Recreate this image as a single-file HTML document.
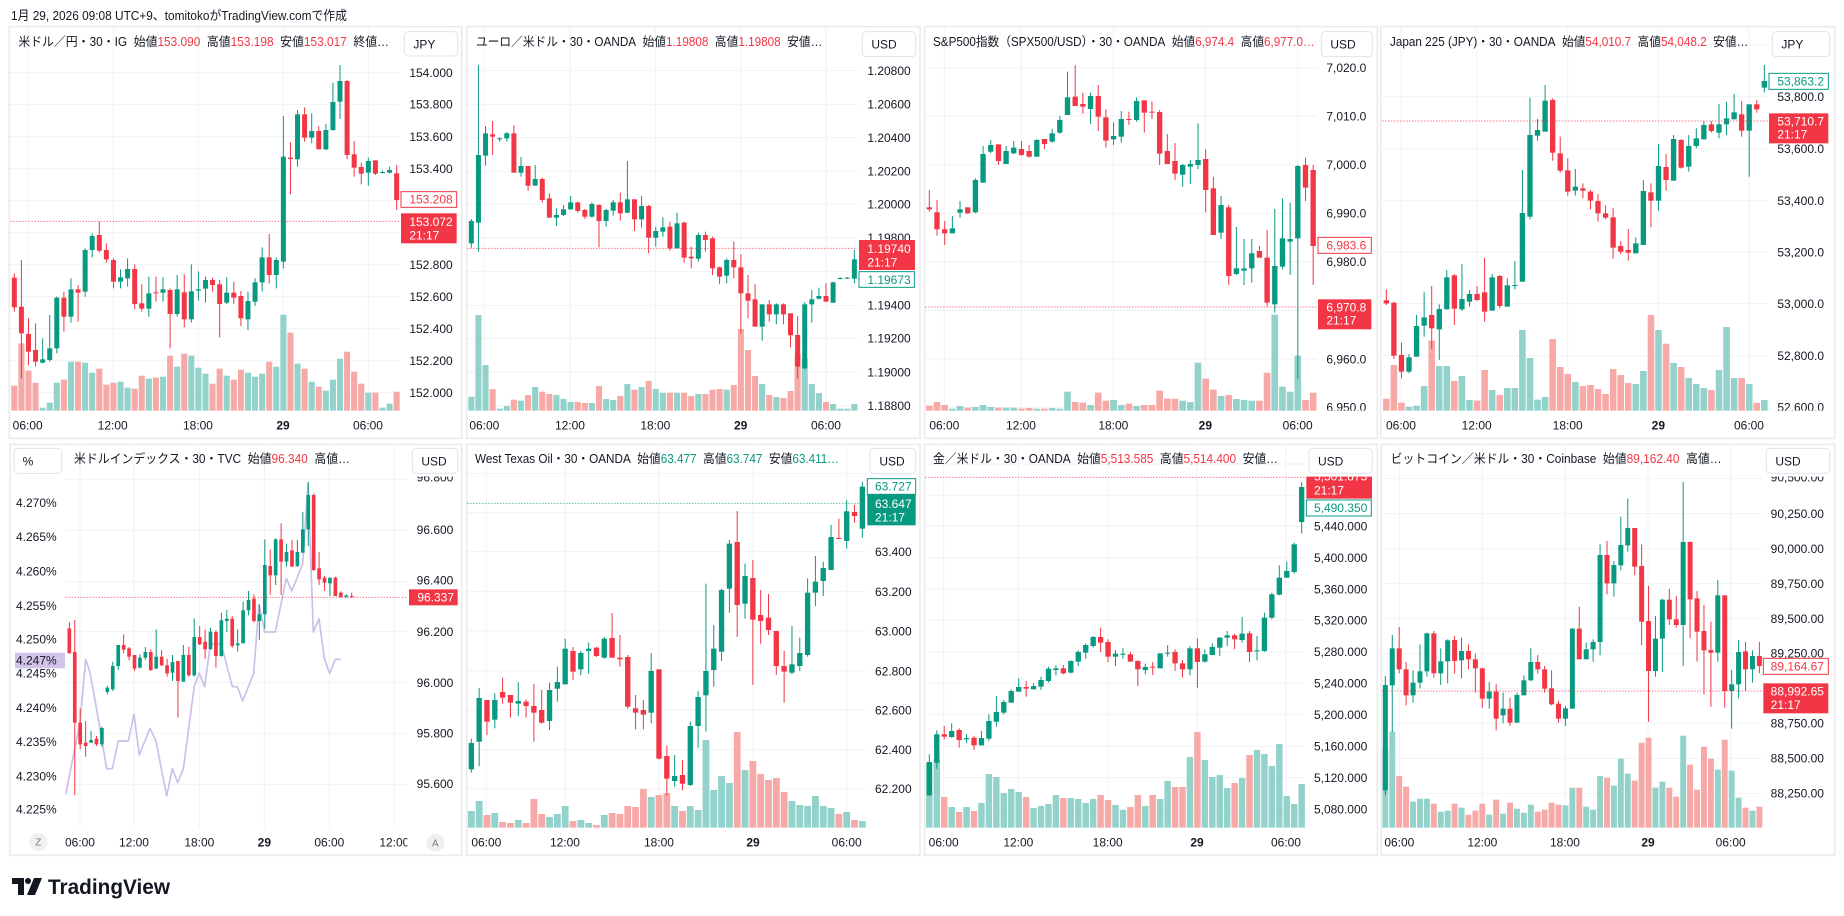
<!DOCTYPE html>
<html><head><meta charset="utf-8">
<style>
html,body{margin:0;padding:0;background:#fff;}
svg{display:block}
text{font-family:"Liberation Sans","Noto Sans CJK JP",sans-serif;}
.pn text{font-size:36px;fill:#131722}
.pn .lg{font-size:38px}
.pn .r{fill:#f23645}
.pn .g{fill:#089981}
.pn .w{fill:#fff}
.pn .e{text-anchor:end}
.pn .t text{text-anchor:middle}
.pn .b{font-weight:bold}
.grid line{stroke:#f1f2f4;stroke-width:3}
.btn rect{fill:#fff;stroke:#e0e3eb;stroke-width:3}
.plr{stroke:#f23645;stroke-width:3;stroke-dasharray:3 6}
.plg{stroke:#089981;stroke-width:3;stroke-dasharray:3 6}
.bd{fill:none;stroke:#ebebeb;stroke-width:5}
.pn .za{font-size:30px;fill:#787b86;text-anchor:middle}
</style></head><body>
<svg id="s" width="1844" height="916" xmlns="http://www.w3.org/2000/svg">
<defs>
<clipPath id="ca1"><rect x="0" y="118" width="1420" height="1054"/></clipPath>
<clipPath id="ca2"><rect x="0" y="122" width="1420" height="1053"/></clipPath>
<clipPath id="ct5"><rect x="197" y="1180" width="1025" height="80"/></clipPath>
</defs>
<rect width="1844" height="916" fill="#fff"/>
<text x="11" y="20" font-size="13" fill="#131722" textLength="336" lengthAdjust="spacingAndGlyphs">1月 29, 2026 09:08 UTC+9、tomitokoがTradingView.comで作成</text>

<!-- footer logo -->
<g fill="#131722">
<polygon points="12,878 24,878 24,895 18,895 18,884 12,884"/>
<circle cx="28" cy="881" r="3"/>
<polygon points="34,878 42,878 35,895 27,895"/>
<text x="48" y="894" font-size="21" font-weight="bold" textLength="122" lengthAdjust="spacingAndGlyphs">TradingView</text>
</g>

<!-- PANEL 1 -->
<g class="pn" transform="translate(0,20) scale(0.333333)">
<rect class="bd" x="28" y="20" width="1357" height="1235"/>
<g class="grid" id="g1"></g>
<g id="c1"></g>
<line class="plr" x1="32" x2="1198" y1="604" y2="604"/>
<text class="lg" x="55" y="78" textLength="1112" lengthAdjust="spacingAndGlyphs">米ドル／円・30・IG&#160;&#160;始値<tspan class="r">153.090</tspan>&#160;&#160;高値<tspan class="r">153.198</tspan>&#160;&#160;安値<tspan class="r">153.017</tspan>&#160;&#160;終値…</text>
<g class="btn"><rect x="1213" y="35" width="160" height="73" rx="12"/><text x="1240" y="85">JPY</text></g>
<g clip-path="url(#ca1)">
<text x="1228" y="171">154.000</text><text x="1228" y="266">153.800</text><text x="1228" y="363">153.600</text><text x="1228" y="459">153.400</text><text x="1228" y="747">152.800</text><text x="1228" y="843">152.600</text><text x="1228" y="939">152.400</text><text x="1228" y="1035">152.200</text><text x="1228" y="1131">152.000</text>
</g>
<rect x="1203" y="515" width="167" height="47" fill="#fff" stroke="#f23645" stroke-width="3"/>
<text class="r" x="1228" y="551">153.208</text>
<rect x="1203" y="580" width="167" height="90" fill="#f23645"/>
<text class="w" x="1228" y="618">153.072</text><text class="w" x="1228" y="658">21:17</text>
<g class="t"><text x="83" y="1228">06:00</text><text x="338" y="1228">12:00</text><text x="594" y="1228">18:00</text><text class="b" x="849" y="1228">29</text><text x="1104" y="1228">06:00</text></g>
</g>

<!-- PANEL 2 -->
<g class="pn" transform="translate(460,20) scale(0.333333)">
<rect class="bd" x="20" y="20" width="1360" height="1235"/>
<g class="grid" id="g2"></g>
<g id="c2"></g>
<line class="plr" x1="22" x2="1193" y1="685" y2="685"/>
<text class="lg" x="48" y="78" textLength="1039" lengthAdjust="spacingAndGlyphs">ユーロ／米ドル・30・OANDA&#160;&#160;始値<tspan class="r">1.19808</tspan>&#160;&#160;高値<tspan class="r">1.19808</tspan>&#160;&#160;安値…</text>
<g class="btn"><rect x="1207" y="35" width="160" height="75" rx="12"/><text x="1234" y="86">USD</text></g>
<g clip-path="url(#ca1)">
<text x="1222" y="165">1.20800</text><text x="1222" y="266">1.20600</text><text x="1222" y="366">1.20400</text><text x="1222" y="467">1.20200</text><text x="1222" y="566">1.20000</text><text x="1222" y="666">1.19800</text><text x="1222" y="869">1.19400</text><text x="1222" y="968">1.19200</text><text x="1222" y="1069">1.19000</text><text x="1222" y="1170">1.18800</text>
</g>
<rect x="1197" y="660" width="168" height="90" fill="#f23645"/>
<text class="w" x="1222" y="699">1.19740</text><text class="w" x="1222" y="740">21:17</text>
<rect x="1197" y="755" width="166" height="47" fill="#fff" stroke="#089981" stroke-width="3"/>
<text class="g" x="1222" y="792">1.19673</text>
<g class="t"><text x="73" y="1228">06:00</text><text x="330" y="1228">12:00</text><text x="586" y="1228">18:00</text><text class="b" x="842" y="1228">29</text><text x="1098" y="1228">06:00</text></g>
</g>

<!-- PANEL 3 -->
<g class="pn" transform="translate(918,20) scale(0.333333)">
<rect class="bd" x="20" y="20" width="1358" height="1235"/>
<g class="grid" id="g3"></g>
<g id="c3"></g>
<line class="plr" x1="22" x2="1197" y1="861" y2="861"/>
<text class="lg" x="45" y="78" textLength="1145" lengthAdjust="spacingAndGlyphs">S&amp;P500指数（SPX500/USD）・30・OANDA&#160;&#160;始値<tspan class="r">6,974.4</tspan>&#160;&#160;高値<tspan class="r">6,977.0…</tspan></text>
<g class="btn"><rect x="1210" y="35" width="153" height="75" rx="12"/><text x="1237" y="86">USD</text></g>
<g clip-path="url(#ca1)">
<text x="1225" y="156">7,020.0</text><text x="1225" y="301">7,010.0</text><text x="1225" y="447">7,000.0</text><text x="1225" y="593">6,990.0</text><text x="1225" y="738">6,980.0</text><text x="1225" y="1030">6,960.0</text><text x="1225" y="1175">6,950.0</text>
</g>
<rect x="1200" y="652" width="160" height="48" fill="#fff" stroke="#f23645" stroke-width="3"/>
<text class="r" x="1225" y="689">6,983.6</text>
<rect x="1200" y="838" width="160" height="90" fill="#f23645"/>
<text class="w" x="1225" y="874">6,970.8</text><text class="w" x="1225" y="914">21:17</text>
<g class="t"><text x="79" y="1228">06:00</text><text x="309" y="1228">12:00</text><text x="586" y="1228">18:00</text><text class="b" x="862" y="1228">29</text><text x="1139" y="1228">06:00</text></g>
</g>

<!-- PANEL 4 -->
<g class="pn" transform="translate(1374,20) scale(0.333333)">
<rect class="bd" x="20" y="20" width="1362" height="1235"/>
<g class="grid" id="g4"></g>
<g id="c4"></g>
<line class="plr" x1="25" x2="1183" y1="303" y2="303"/>
<text class="lg" x="48" y="78" textLength="1075" lengthAdjust="spacingAndGlyphs">Japan 225 (JPY)・30・OANDA&#160;&#160;始値<tspan class="r">54,010.7</tspan>&#160;&#160;高値<tspan class="r">54,048.2</tspan>&#160;&#160;安値…</text>
<g class="btn"><rect x="1195" y="35" width="172" height="75" rx="12"/><text x="1222" y="86">JPY</text></g>
<g clip-path="url(#ca1)">
<text x="1210" y="243">53,800.0</text><text x="1210" y="399">53,600.0</text><text x="1210" y="555">53,400.0</text><text x="1210" y="709">53,200.0</text><text x="1210" y="864">53,000.0</text><text x="1210" y="1020">52,800.0</text><text x="1210" y="1175">52,600.0</text>
</g>
<rect x="1185" y="160" width="178" height="48" fill="#fff" stroke="#089981" stroke-width="3"/>
<text class="g" x="1210" y="196">53,863.2</text>
<rect x="1185" y="280" width="178" height="90" fill="#f23645"/>
<text class="w" x="1210" y="316">53,710.7</text><text class="w" x="1210" y="356">21:17</text>
<g class="t"><text x="81" y="1228">06:00</text><text x="308" y="1228">12:00</text><text x="581" y="1228">18:00</text><text class="b" x="853" y="1228">29</text><text x="1125" y="1228">06:00</text></g>
</g>

<!-- PANEL 5 -->
<g class="pn" transform="translate(0,436) scale(0.333333)">
<rect class="bd" x="30" y="25" width="1355" height="1233"/>
<g class="grid" id="g5"></g>
<polyline fill="none" stroke="#cbbfe9" stroke-width="5" stroke-linejoin="round" points="197,1075 240,860 257,670 270,710 290,820 320,998 337,998 355,915 385,915 402,835 418,957 450,877 468,915 500,1080 517,998 533,1040 550,998 583,750 598,712 614,752 631,625 647,622 664,625 697,752 712,752 728,795 761,712 777,505 794,588 826,588 843,505 859,427 875,465 908,385 924,142 940,588 957,548 973,668 989,712 1006,670 1022,670"/>
<g id="c5"></g>
<line class="plr" x1="197" x2="1222" y1="484" y2="484"/>
<text class="lg" x="222" y="81" textLength="828" lengthAdjust="spacingAndGlyphs">米ドルインデックス・30・TVC&#160;&#160;始値<tspan class="r">96.340</tspan>&#160;&#160;高値…</text>
<g class="btn"><rect x="1237" y="37" width="136" height="75" rx="12"/><text x="1264" y="88">USD</text></g>
<g class="btn"><rect x="42" y="37" width="143" height="75" rx="12"/><text x="68" y="88">%</text></g>
<g clip-path="url(#ca2)">
<text x="1250" y="137">96.800</text><text x="1250" y="294">96.600</text><text x="1250" y="446">96.400</text><text x="1250" y="600">96.200</text><text x="1250" y="753">96.000</text><text x="1250" y="905">95.800</text><text x="1250" y="1056">95.600</text>
<text class="e" x="170" y="213">4.270%</text><text class="e" x="170" y="315">4.265%</text><text class="e" x="170" y="419">4.260%</text><text class="e" x="170" y="522">4.255%</text><text class="e" x="170" y="623">4.250%</text><text class="e" x="170" y="725">4.245%</text><text class="e" x="170" y="828">4.240%</text><text class="e" x="170" y="930">4.235%</text><text class="e" x="170" y="1033">4.230%</text><text class="e" x="170" y="1133">4.225%</text>
</g>
<rect x="45" y="650" width="150" height="47" fill="#d1c4e9"/>
<text class="e" x="170" y="686">4.247%</text>
<rect x="1227" y="460" width="146" height="48" fill="#f23645"/>
<text class="w" x="1252" y="497">96.337</text>
<g class="t" clip-path="url(#ct5)"><text x="240" y="1231">06:00</text><text x="402" y="1231">12:00</text><text x="598" y="1231">18:00</text><text class="b" x="793" y="1231">29</text><text x="988" y="1231">06:00</text><text x="1183" y="1231">12:00</text></g>
<circle cx="115" cy="1218" r="27" fill="#f0f0f0"/><text class="za" x="115" y="1229">Z</text>
<circle cx="1306" cy="1220" r="27" fill="#f0f0f0"/><text class="za" x="1306" y="1231">A</text>
</g>

<!-- PANEL 6 -->
<g class="pn" transform="translate(460,436) scale(0.333333)">
<rect class="bd" x="20" y="25" width="1360" height="1233"/>
<g class="grid" id="g6"></g>
<g id="c6"></g>
<line class="plg" x1="22" x2="1218" y1="202" y2="202"/>
<text class="lg" x="45" y="81" textLength="1092" lengthAdjust="spacingAndGlyphs">West Texas Oil・30・OANDA&#160;&#160;始値<tspan class="g">63.477</tspan>&#160;&#160;高値<tspan class="g">63.747</tspan>&#160;&#160;安値<tspan class="g">63.411…</tspan></text>
<g class="btn"><rect x="1230" y="37" width="137" height="75" rx="12"/><text x="1258" y="88">USD</text></g>
<g clip-path="url(#ca2)">
<text x="1245" y="360">63.400</text><text x="1245" y="480">63.200</text><text x="1245" y="598">63.000</text><text x="1245" y="718">62.800</text><text x="1245" y="835">62.600</text><text x="1245" y="954">62.400</text><text x="1245" y="1071">62.200</text>
</g>
<rect x="1222" y="128" width="145" height="47" fill="#fff" stroke="#089981" stroke-width="3"/>
<text class="g" x="1245" y="164">63.727</text>
<rect x="1222" y="175" width="145" height="93" fill="#089981"/>
<text class="w" x="1245" y="216">63.647</text><text class="w" x="1245" y="257">21:17</text>
<g class="t"><text x="79" y="1231">06:00</text><text x="315" y="1231">12:00</text><text x="597" y="1231">18:00</text><text class="b" x="879" y="1231">29</text><text x="1160" y="1231">06:00</text></g>
</g>

<!-- PANEL 7 -->
<g class="pn" transform="translate(918,436) scale(0.333333)">
<rect class="bd" x="20" y="25" width="1358" height="1233"/>
<g class="grid" id="g7"></g>
<g id="c7"></g>
<line class="plr" x1="22" x2="1160" y1="124" y2="124"/>
<text class="lg" x="45" y="81" textLength="1035" lengthAdjust="spacingAndGlyphs">金／米ドル・30・OANDA&#160;&#160;始値<tspan class="r">5,513.585</tspan>&#160;&#160;高値<tspan class="r">5,514.400</tspan>&#160;&#160;安値…</text>
<g class="btn"><rect x="1173" y="37" width="190" height="75" rx="12"/><text x="1200" y="88">USD</text></g>
<g clip-path="url(#ca2)">
<text x="1188" y="283">5,440.000</text><text x="1188" y="378">5,400.000</text><text x="1188" y="472">5,360.000</text><text x="1188" y="566">5,320.000</text><text x="1188" y="660">5,280.000</text><text x="1188" y="755">5,240.000</text><text x="1188" y="849">5,200.000</text><text x="1188" y="944">5,160.000</text><text x="1188" y="1038">5,120.000</text><text x="1188" y="1133">5,080.000</text>
<rect x="1165" y="100" width="197" height="88" fill="#f23645"/>
<text class="w" x="1188" y="133">5,501.875</text><text class="w" x="1188" y="175">21:17</text>
</g>
<rect x="1165" y="192" width="195" height="48" fill="#fff" stroke="#089981" stroke-width="3"/>
<text class="g" x="1188" y="228">5,490.350</text>
<g class="t"><text x="77" y="1231">06:00</text><text x="301" y="1231">12:00</text><text x="569" y="1231">18:00</text><text class="b" x="837" y="1231">29</text><text x="1104" y="1231">06:00</text></g>
</g>

<!-- PANEL 8 -->
<g class="pn" transform="translate(1374,436) scale(0.333333)">
<rect class="bd" x="22" y="25" width="1360" height="1233"/>
<g class="grid" id="g8"></g>
<g id="c8"></g>
<line class="plr" x1="25" x2="1163" y1="765" y2="765"/>
<text class="lg" x="50" y="81" textLength="993" lengthAdjust="spacingAndGlyphs">ビットコイン／米ドル・30・Coinbase&#160;&#160;始値<tspan class="r">89,162.40</tspan>&#160;&#160;高値…</text>
<g class="btn"><rect x="1177" y="37" width="190" height="75" rx="12"/><text x="1204" y="88">USD</text></g>
<g clip-path="url(#ca2)">
<text x="1190" y="137">90,500.00</text><text x="1190" y="246">90,250.00</text><text x="1190" y="351">90,000.00</text><text x="1190" y="456">89,750.00</text><text x="1190" y="561">89,500.00</text><text x="1190" y="665">89,250.00</text><text x="1190" y="875">88,750.00</text><text x="1190" y="980">88,500.00</text><text x="1190" y="1085">88,250.00</text>
</g>
<rect x="1168" y="667" width="195" height="48" fill="#fff" stroke="#f23645" stroke-width="3"/>
<text class="r" x="1190" y="703">89,164.67</text>
<rect x="1168" y="742" width="195" height="90" fill="#f23645"/>
<text class="w" x="1190" y="778">88,992.65</text><text class="w" x="1190" y="819">21:17</text>
<g class="t"><text x="76" y="1231">06:00</text><text x="325" y="1231">12:00</text><text x="573" y="1231">18:00</text><text class="b" x="822" y="1231">29</text><text x="1070" y="1231">06:00</text></g>
</g>
</svg>

<script>
var NS='http://www.w3.org/2000/svg';
function el(p,t,a){var e=document.createElementNS(NS,t);for(var k in a)e.setAttribute(k,a[k]);p.appendChild(e);return e;}
function grid(id,xs,ys,xL,xR,yT,yB){var g=document.getElementById(id);
 xs.forEach(function(x){el(g,'line',{x1:x,x2:x,y1:yT,y2:yB});});
 ys.forEach(function(y){el(g,'line',{x1:xL,x2:xR,y1:y,y2:y});});}
function cnd(id,x0,dx,bw,data,vols,vb){var g=document.getElementById(id);
 if(vols){vols.forEach(function(v,i){var x=x0+i*dx;el(g,'rect',{x:(x-dx/2+1.5).toFixed(1),y:v,width:(dx-3).toFixed(1),height:vb-v,fill:data[i][0]?'#92d2ca':'#f7a9a7'});});}
 data.forEach(function(d,i){var x=x0+i*dx;var c=d[0]?'#089981':'#f23645';
  el(g,'rect',{x:(x-1.5).toFixed(1),y:d[3],width:3,height:Math.max(3,d[4]-d[3]),fill:c});
  el(g,'rect',{x:(x-bw/2).toFixed(1),y:d[1],width:bw,height:Math.max(3,d[2]-d[1]),fill:c});});}

grid('g1',[85,340,595,850,1105],[158,253,350,446,542,638,734,830,926,1022,1118],32,1198,22,1172);
grid('g2',[73,330,586,842,1098],[152,253,353,454,553,653,755,856,955,1056,1157],22,1193,22,1172);
grid('g3',[79,309,586,862,1139],[143,288,434,580,725,871,1017,1162],22,1197,22,1172);
grid('g4',[81,308,581,853,1125],[74,230,386,542,696,851,1007,1162],25,1183,22,1172);
grid('g5',[240,402,598,793,988,1183],[130,283,437,587,740,892,1045],197,1222,28,1175);
grid('g6',[79,315,597,879,1160],[112,230,347,467,585,705,822,941,1058],22,1218,28,1175);
grid('g7',[77,301,569,837,1104],[84,178,270,365,459,553,647,742,836,931,1025,1120],22,1160,28,1175);
grid('g8',[76,325,573,822,1070],[128,233,338,443,548,652,757,862,967,1072],25,1163,28,1175);

cnd('c1',43,21.24,15,[[0,773,862,760,875],[0,860,940,720,1075],[0,942,995,895,1035],[0,990,1025,910,1040],[1,1018,1028,955,1030],[1,985,1020,885,1025],[1,833,985,830,1000],[0,833,890,815,935],[1,808,890,775,908],[0,808,818,795,905],[1,690,815,685,830],[1,648,690,640,712],[0,645,692,605,698],[0,690,718,670,728],[0,720,785,715,805],[1,772,785,748,805],[1,747,775,715,800],[0,747,852,733,868],[0,850,866,793,875],[1,820,866,770,890],[0,817,820,770,845],[1,808,818,772,845],[0,810,882,805,985],[1,808,882,765,890],[0,817,898,763,922],[1,814,898,733,908],[1,808,812,754,842],[1,780,806,770,848],[0,780,795,773,815],[0,793,852,780,952],[1,818,848,772,852],[0,818,833,785,852],[0,828,895,813,918],[1,843,898,815,930],[1,787,845,775,858],[1,712,787,682,815],[0,712,765,642,790],[1,720,765,712,805],[1,410,725,288,745],[0,413,417,367,523],[1,283,418,270,440],[0,283,353,262,365],[1,333,353,280,370],[0,333,388,318,388],[1,330,388,312,390],[1,246,330,188,333],[1,183,245,135,297],[0,183,405,180,418],[0,403,443,363,470],[0,441,461,428,493],[1,423,458,413,497],[0,421,461,421,465],[1,456,458,452,460],[1,450,458,440,460],[0,460,540,435,570]],
[1097,970,1052,1088,1163,1148,1088,1079,1025,1025,1028,1058,1046,1094,1088,1085,1103,1106,1067,1076,1073,1070,1007,1040,1001,1007,1043,1061,1091,1046,1067,1079,1049,1058,1070,1061,1025,1040,884,938,1031,1046,1085,1100,1112,1079,1016,995,1055,1091,1118,1118,1163,1151,1115],1172);

cnd('c2',34,21.28,15,[[1,603,670,597,683],[1,405,608,135,695],[1,340,407,318,437],[0,343,350,303,405],[1,355,357,352,365],[1,340,355,336,365],[0,340,458,316,458],[1,438,458,411,470],[0,438,497,438,512],[1,477,497,435,497],[0,477,540,473,548],[0,535,593,520,593],[1,585,593,565,618],[1,568,585,555,588],[1,547,568,528,570],[0,547,573,545,578],[0,570,590,567,597],[1,552,590,547,593],[0,555,603,553,682],[1,570,603,567,620],[1,547,572,540,587],[0,547,580,518,602],[1,538,578,423,580],[0,538,598,538,633],[1,558,598,528,623],[0,558,653,555,700],[1,633,653,620,680],[1,622,635,592,650],[0,620,685,605,692],[1,610,685,578,685],[0,608,713,605,728],[0,710,715,680,745],[1,645,716,638,725],[0,645,660,635,695],[0,655,745,650,765],[0,742,770,740,793],[1,720,767,715,790],[0,720,742,665,775],[0,742,820,703,940],[0,820,842,765,895],[0,838,920,793,920],[1,853,920,853,962],[0,853,883,840,905],[1,853,883,850,913],[0,853,883,850,913],[0,880,946,880,982],[0,945,1040,888,1075],[1,853,1045,847,1048],[1,838,853,810,908],[1,828,836,803,838],[0,828,845,790,845],[1,787,848,785,848],[1,774,776,772,778],[1,773,775,771,777],[1,718,776,690,790]],
[1130,885,1035,1107,1166,1158,1139,1142,1125,1101,1115,1122,1125,1137,1146,1146,1149,1149,1098,1137,1140,1128,1092,1109,1101,1083,1107,1118,1118,1118,1118,1128,1122,1122,1109,1107,1109,1095,927,990,1068,1092,1125,1131,1134,1113,1001,1015,1092,1119,1146,1152,1166,1166,1152],1172);

cnd('c3',34,23.03,16,[[0,562,568,510,575],[0,577,628,540,647],[0,628,640,603,675],[1,625,640,588,640],[1,568,578,543,593],[0,562,580,562,582],[1,480,577,475,580],[1,402,488,378,488],[1,375,395,360,400],[0,373,423,373,435],[1,393,432,378,432],[1,383,400,363,402],[0,387,405,363,408],[0,393,410,375,413],[1,360,410,357,410],[0,357,372,357,387],[1,340,365,327,368],[1,300,338,288,341],[1,232,285,155,285],[0,230,258,135,258],[0,252,260,218,282],[1,228,267,218,312],[0,228,290,195,333],[0,292,362,268,383],[1,348,358,307,375],[1,297,350,273,368],[0,297,299,275,315],[1,243,300,232,305],[0,241,278,241,338],[0,275,277,245,297],[0,276,401,270,435],[0,393,432,342,432],[0,423,461,369,480],[1,435,464,432,500],[1,432,440,420,492],[1,420,435,310,447],[0,417,510,388,577],[0,505,645,470,645],[1,555,638,528,657],[0,562,768,555,795],[1,745,762,621,765],[1,745,752,657,795],[1,700,745,657,788],[0,693,713,678,713],[0,713,848,630,860],[1,738,853,567,878],[1,655,740,535,748],[1,657,665,548,765],[1,438,655,435,1077],[0,435,503,413,543],[0,450,678,435,795]],
[1157,1146,1155,1166,1158,1163,1161,1155,1161,1163,1163,1163,1166,1164,1166,1166,1164,1166,1115,1146,1148,1155,1118,1142,1140,1155,1151,1158,1155,1155,1112,1136,1136,1142,1146,1028,1076,1109,1128,1125,1137,1140,1142,1142,1058,884,1100,1115,1007,1140,1118],1172);

cnd('c4',37,22.68,16,[[0,841,850,808,855],[0,848,1007,845,1017],[0,1005,1055,968,1075],[1,1012,1055,1002,1060],[1,918,1010,885,1010],[1,892,917,817,950],[0,885,925,798,987],[1,867,928,853,1020],[1,772,868,750,868],[0,766,866,763,915],[1,837,868,732,873],[1,822,845,810,860],[0,822,840,798,843],[0,817,875,713,905],[1,772,872,762,872],[0,768,858,765,865],[1,796,860,775,860],[1,795,797,723,808],[1,579,785,450,785],[1,345,590,233,598],[1,330,347,297,362],[1,242,335,195,335],[0,240,398,235,422],[0,400,452,350,458],[0,451,515,415,527],[1,500,512,447,527],[0,505,512,490,535],[0,515,542,510,568],[0,543,580,522,605],[0,580,593,556,598],[0,592,683,563,716],[0,678,695,663,703],[0,690,698,627,722],[1,670,700,652,700],[1,513,675,480,675],[0,517,542,490,622],[1,438,542,372,572],[0,441,480,402,512],[1,357,482,345,482],[0,360,443,357,446],[1,378,440,345,455],[1,355,378,325,385],[1,315,358,303,358],[0,313,333,303,338],[1,313,338,252,355],[1,295,313,245,345],[1,277,298,222,298],[0,283,332,243,350],[1,253,332,253,470],[0,253,268,240,278],[1,183,203,135,217]],
[1136,1035,1148,1160,1157,1098,962,1038,1038,1083,1068,1140,1142,1050,1110,1125,1104,1104,930,1014,1139,1131,957,1041,1062,1086,1098,1095,1107,1122,1047,1065,1089,1092,1053,885,930,971,1029,1041,1074,1092,1104,1110,1050,921,1074,1074,1092,1149,1140],1172);

cnd('c5',208,16.29,11,[[0,577,652,558,652],[0,648,860,552,1078],[0,860,925,818,940],[0,920,930,855,962],[1,912,920,885,920],[0,908,925,900,930],[1,876,925,872,932],[1,755,768,750,775],[1,690,760,677,765],[1,627,690,627,702],[0,627,641,595,652],[0,637,662,633,673],[0,657,698,657,705],[1,665,695,655,697],[1,648,665,633,672],[0,648,702,640,705],[1,662,698,580,698],[0,662,688,642,690],[0,688,712,668,722],[1,678,710,657,735],[0,675,735,675,845],[1,657,737,627,737],[0,657,718,632,722],[1,603,718,547,722],[0,603,625,570,627],[0,617,640,580,668],[1,587,640,575,640],[0,588,660,582,695],[1,553,660,530,662],[1,548,555,522,588],[0,548,630,540,635],[1,622,628,580,647],[1,523,622,497,622],[1,492,523,465,538],[0,488,555,475,560],[1,535,555,505,612],[1,387,535,310,578],[0,390,418,340,476],[1,310,418,307,447],[0,310,377,262,477],[1,348,377,323,392],[0,343,392,312,392],[1,348,390,312,393],[1,280,350,228,350],[1,177,280,138,330],[0,177,402,172,405],[0,397,430,348,447],[0,425,440,420,465],[1,425,442,425,480],[0,425,480,422,480],[0,470,483,466,485],[1,478,482,475,485],[0,480,483,470,485]],null,1175);

cnd('c6',34,23.46,16,[[1,921,1000,908,1010],[1,786,917,756,990],[0,792,857,792,897],[1,792,851,772,877],[0,768,785,725,803],[0,777,800,777,845],[1,795,803,738,840],[0,797,810,790,845],[0,810,830,744,917],[0,822,860,762,863],[1,762,855,740,882],[1,738,758,692,797],[1,638,745,608,745],[0,645,707,633,732],[1,651,700,645,718],[1,638,645,620,713],[0,635,660,632,663],[1,608,665,602,668],[0,606,665,531,665],[0,665,670,597,692],[0,663,812,657,818],[0,817,830,777,880],[0,822,836,792,880],[1,705,830,651,862],[0,700,968,700,970],[0,960,1028,930,1080],[1,1020,1035,957,1052],[0,1017,1043,972,1063],[1,870,1047,857,1050],[1,783,870,765,935],[1,705,778,443,887],[1,638,702,567,752],[1,462,647,458,675],[1,323,458,312,530],[0,318,507,225,603],[1,420,503,383,548],[0,426,551,372,747],[0,537,555,462,623],[0,545,582,474,597],[0,585,690,585,717],[0,690,707,645,800],[1,685,710,570,715],[1,651,690,605,705],[1,470,657,427,662],[1,437,470,360,510],[1,396,435,377,480],[1,303,402,267,402],[0,306,308,248,308],[1,226,315,193,338],[0,228,240,207,260],[1,152,278,137,305]],
[1125,1095,1137,1131,1158,1161,1152,1161,1089,1134,1143,1134,1110,1155,1152,1161,1167,1137,1131,1134,1110,1113,1059,1083,1077,1071,1110,1125,1110,1122,912,1062,1020,1041,888,1002,975,1014,1032,1026,1068,1095,1107,1110,1080,1110,1116,1134,1128,1152,1155],1175);

cnd('c7',34,22.34,16,[[1,978,1078,955,1080],[1,895,980,883,998],[0,895,902,870,910],[1,885,903,862,905],[0,882,912,877,935],[1,906,910,895,922],[0,905,928,900,942],[1,906,928,885,928],[1,855,908,835,915],[1,828,857,780,872],[1,798,830,792,835],[1,765,800,760,800],[1,753,767,727,767],[0,753,758,735,782],[1,750,760,742,760],[1,732,752,722,762],[1,698,735,692,740],[1,697,702,688,718],[0,697,712,687,715],[1,675,710,673,712],[1,648,677,643,690],[1,627,650,622,668],[1,603,630,600,635],[0,603,620,575,648],[0,618,662,610,678],[1,653,662,643,690],[1,653,655,636,668],[0,655,677,648,677],[0,675,700,673,750],[1,693,702,683,715],[0,692,694,678,717],[1,652,697,652,697],[1,650,652,628,662],[0,648,682,640,705],[0,682,700,672,725],[1,637,700,630,718],[0,637,678,607,755],[1,655,677,640,680],[1,633,657,622,658],[1,605,635,603,660],[1,598,605,585,630],[0,598,610,593,640],[1,593,612,543,620],[0,592,648,585,678],[1,643,645,600,673],[1,545,645,530,648],[1,475,545,470,550],[1,425,476,388,478],[1,405,425,377,425],[1,325,408,320,413],[1,153,258,138,292]],
[982,970,1083,1113,1128,1113,1125,1101,1014,1023,1071,1059,1068,1083,1116,1110,1104,1077,1086,1086,1089,1101,1089,1077,1092,1107,1122,1113,1077,1110,1077,1089,1035,1053,1053,963,888,972,1023,1017,1056,1041,1026,957,942,954,990,924,1080,1104,1044],1175);

cnd('c8',34,20.78,15,[[1,747,1063,720,1078],[1,637,748,597,888],[0,637,700,573,712],[0,700,778,678,808],[1,740,778,703,800],[1,706,740,625,757],[1,592,706,590,722],[0,592,712,585,725],[1,676,712,637,747],[1,613,676,610,742],[0,612,675,600,713],[1,645,673,605,727],[0,645,670,625,700],[0,670,697,653,770],[0,697,788,695,815],[1,767,788,738,818],[0,767,848,745,883],[1,818,838,770,862],[0,818,860,785,870],[1,777,860,770,860],[1,733,778,718,778],[1,678,733,637,735],[0,678,700,657,713],[0,700,758,690,770],[0,757,805,703,808],[0,803,848,795,860],[1,817,848,810,870],[1,578,818,576,818],[0,578,670,512,670],[1,640,670,620,670],[1,618,640,610,677],[1,357,618,325,658],[0,357,442,315,475],[1,387,442,375,482],[1,327,388,242,403],[1,276,328,188,347],[0,276,392,276,418],[0,390,557,325,628],[0,555,705,450,858],[1,608,705,540,722],[1,491,608,488,708],[0,491,550,458,567],[0,550,567,480,575],[1,318,567,138,690],[0,318,490,316,607],[0,487,587,465,677],[0,585,643,507,775],[0,642,650,557,812],[1,478,650,432,677],[0,478,765,478,815],[1,745,765,702,878],[1,648,745,612,787],[0,646,700,618,765],[1,660,700,643,740],[0,660,690,618,712]],
[940,887,1020,1052,1097,1088,1088,1103,1127,1124,1103,1115,1136,1124,1103,1136,1091,1133,1100,1118,1130,1106,1127,1121,1100,1106,1108,1055,1055,1112,1121,1020,1025,1049,968,1013,1034,920,905,1055,1037,1055,1082,899,986,1061,932,968,1001,911,1004,1085,1115,1124,1112],1175);
</script>
</body></html>
